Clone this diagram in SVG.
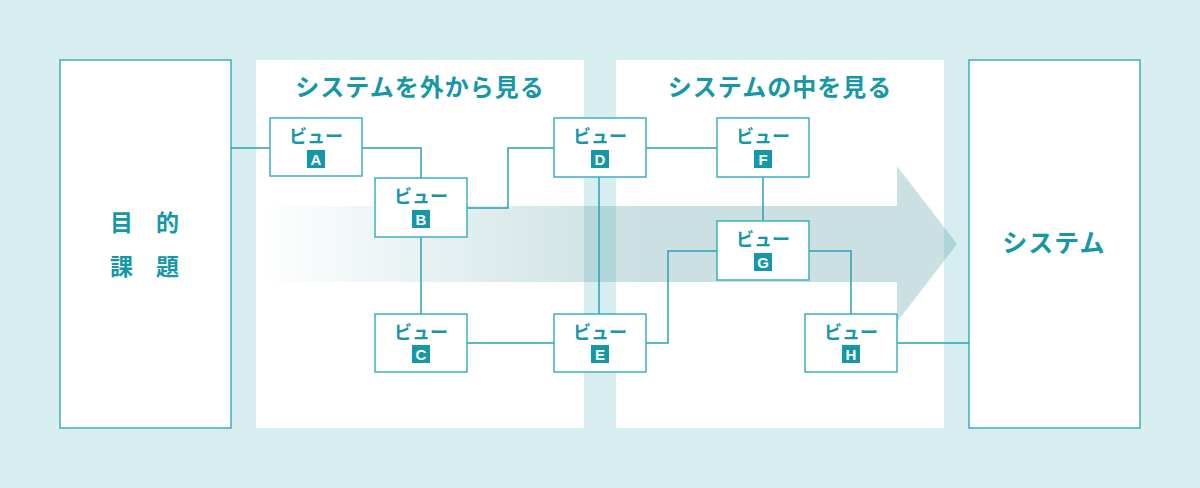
<svg xmlns="http://www.w3.org/2000/svg" width="1200" height="488" viewBox="0 0 1200 488">
<defs>
<linearGradient id="ag" gradientUnits="userSpaceOnUse" x1="256" y1="0" x2="640" y2="0">
<stop offset="0" stop-color="#4e98a2" stop-opacity="0"/>
<stop offset="1" stop-color="#4e98a2" stop-opacity="0.3"/>
</linearGradient>
<style>
.big{fill:#fff;stroke:#3eb0bd;stroke-width:1.5}
.panel{fill:#fff}
.node{fill:#fff;stroke:#3eb0bd;stroke-width:1.5}
.ln{fill:none;stroke:#2aa1b1;stroke-width:1.5}
.t{font-family:"Noto Sans CJK JP",sans-serif;font-weight:bold;fill:#1597a8;text-anchor:middle}
.lab{font-family:"Noto Sans CJK JP",sans-serif;font-weight:bold;fill:#1597a8;text-anchor:middle;font-size:18px}
.sq{fill:#1597a8}
.let{font-family:"Liberation Sans",Arial,sans-serif;font-weight:bold;fill:#fff;text-anchor:middle;font-size:15px}
</style>
</defs>
<rect x="0" y="0" width="1200" height="488" fill="#d7eef0"/>
<rect class="panel" x="256" y="60" width="328" height="368"/>
<rect class="panel" x="616" y="60" width="328" height="368"/>
<text class="t" x="420" y="96" font-size="24" letter-spacing="1">システムを外から見る</text>
<text class="t" x="780" y="96" font-size="24" letter-spacing="1">システムの中を見る</text>
<path d="M256,206 H897 V166 L957,244 L897,322 V282 H256 Z" fill="url(#ag)"/>
<g id="purpose">
<rect class="big" x="60" y="60" width="171" height="368"/>
<text class="t" font-size="23"><tspan x="121.5" y="231">目</tspan><tspan x="167.5" y="231">的</tspan><tspan x="121.5" y="275">課</tspan><tspan x="167.5" y="275">題</tspan></text>
</g>
<g id="system">
<rect class="big" x="969" y="60" width="171" height="368"/>
<text class="t" x="1054" y="252" font-size="25" letter-spacing="1">システム</text>
</g>
<g id="connectors">
<path class="ln" d="M231,148 H270"/>
<path class="ln" d="M362,148 H421 V178"/>
<path class="ln" d="M467,208 H508 V148 H554"/>
<path class="ln" d="M421,237 V314"/>
<path class="ln" d="M467,343 H554"/>
<path class="ln" d="M599,177 V314"/>
<path class="ln" d="M646,148 H717"/>
<path class="ln" d="M763,177 V221"/>
<path class="ln" d="M646,343 H668 V251 H717"/>
<path class="ln" d="M809,251 H851 V314"/>
<path class="ln" d="M897,343 H969"/>
</g>
<g id="nodeA"><rect class="node" x="270" y="118" width="92" height="58"/><text class="lab" x="316" y="143">ビュー</text><rect class="sq" x="307" y="150" width="18" height="18"/><text class="let" x="316" y="164.5">A</text></g>
<g id="nodeB"><rect class="node" x="375" y="178" width="92" height="59"/><text class="lab" x="421" y="203">ビュー</text><rect class="sq" x="412" y="210" width="18" height="18"/><text class="let" x="421" y="224.5">B</text></g>
<g id="nodeC"><rect class="node" x="375" y="314" width="92" height="58"/><text class="lab" x="421" y="339">ビュー</text><rect class="sq" x="412" y="345" width="18" height="18"/><text class="let" x="421" y="359.5">C</text></g>
<g id="nodeD"><rect class="node" x="554" y="118" width="92" height="59"/><text class="lab" x="600" y="143">ビュー</text><rect class="sq" x="591" y="150" width="18" height="18"/><text class="let" x="600" y="164.5">D</text></g>
<g id="nodeE"><rect class="node" x="554" y="314" width="92" height="58"/><text class="lab" x="600" y="339">ビュー</text><rect class="sq" x="591" y="345" width="18" height="18"/><text class="let" x="600" y="359.5">E</text></g>
<g id="nodeF"><rect class="node" x="717" y="118" width="92" height="59"/><text class="lab" x="763" y="143">ビュー</text><rect class="sq" x="754" y="150" width="18" height="18"/><text class="let" x="763" y="164.5">F</text></g>
<g id="nodeG"><rect class="node" x="717" y="221" width="92" height="59"/><text class="lab" x="763" y="246">ビュー</text><rect class="sq" x="754" y="253" width="18" height="18"/><text class="let" x="763" y="267.5">G</text></g>
<g id="nodeH"><rect class="node" x="805" y="314" width="92" height="58"/><text class="lab" x="851" y="339">ビュー</text><rect class="sq" x="842" y="345" width="18" height="18"/><text class="let" x="851" y="359.5">H</text></g>
</svg>
